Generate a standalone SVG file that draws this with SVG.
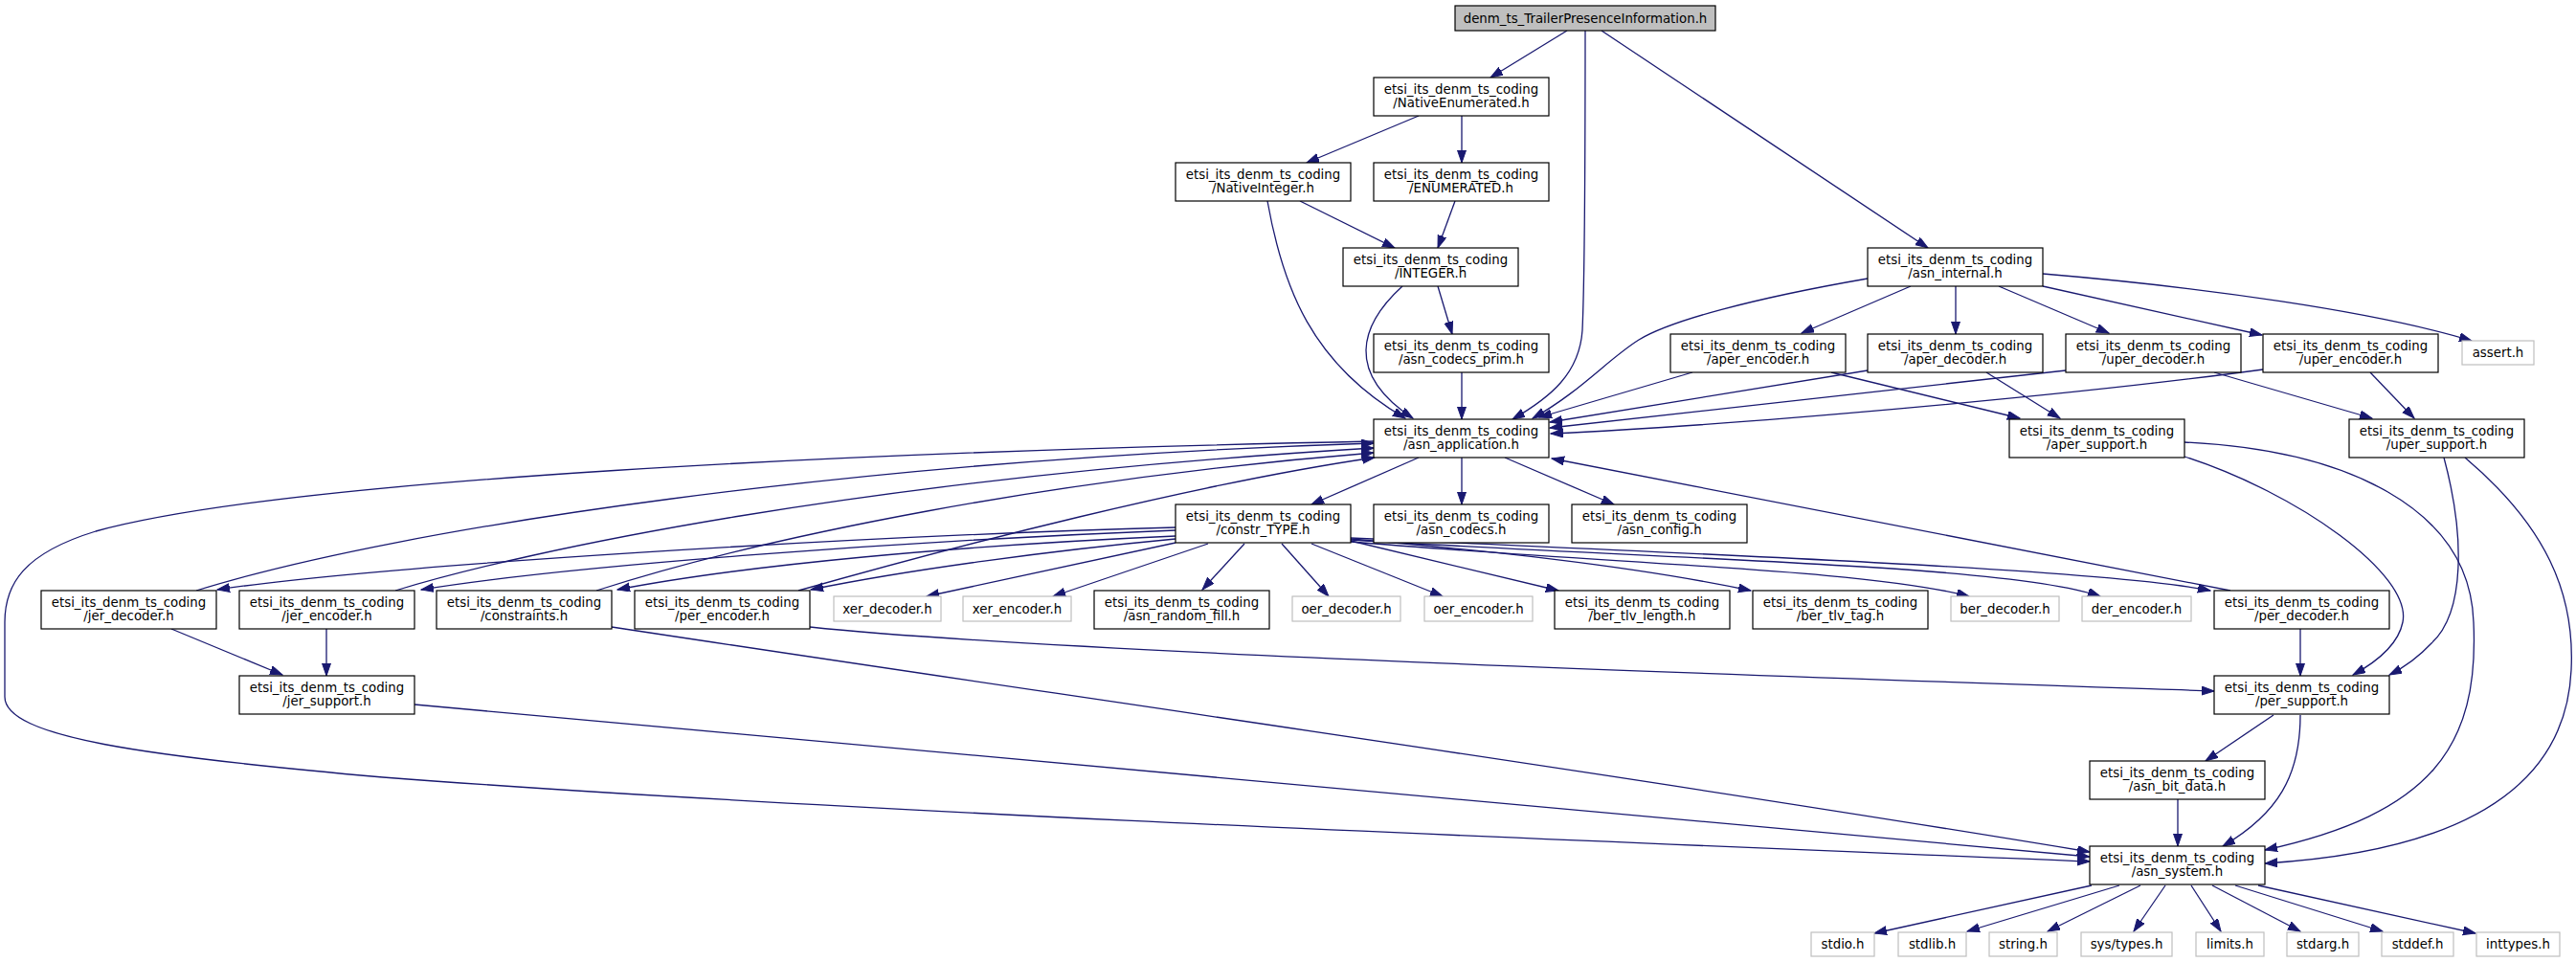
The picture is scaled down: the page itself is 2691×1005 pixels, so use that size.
<svg xmlns="http://www.w3.org/2000/svg" width="2691" height="1005" viewBox="0 0 2691 1005">
<style>
.n rect{fill:#fff;stroke:#000;stroke-width:1.2}
.g rect{fill:#fff;stroke:#bfbfbf;stroke-width:1.2}
.r rect{fill:#bfbfbf;stroke:#000;stroke-width:1.2}
text{font-family:"DejaVu Sans","Liberation Sans",sans-serif;font-size:13.33px;text-anchor:middle;fill:#000}
#edges path{fill:none;stroke:#191970;stroke-width:1.3;marker-end:url(#a)}
</style>
<defs>
<marker id="a" markerWidth="14" markerHeight="10" refX="13" refY="4.5" orient="auto" markerUnits="userSpaceOnUse"><path d="M0,0 L13,4.5 L0,9 z" fill="#191970" stroke="#191970" stroke-width="1"/></marker>
</defs>
<rect width="2691" height="1005" fill="#fff"/>
<g id="edges">
<path d="M1637,32 L1557,81"/>
<path d="M1656,32 C1656,150 1655,300 1653,345 C1650,390 1620,415 1580,438"/>
<path d="M1673,32 L2014,259"/>
<path d="M1482,121 L1365,170"/>
<path d="M1527,121 L1527,170"/>
<path d="M1358,210 L1457,259"/>
<path d="M1324,210 C1340,300 1370,380 1468,437"/>
<path d="M1520,210 L1502,259"/>
<path d="M1465,299 C1420,340 1405,390 1476,437"/>
<path d="M1502,299 L1517,349"/>
<path d="M1527,389 L1527,438"/>
<path d="M1951,291 C1830,312 1745,335 1712,355 C1680,375 1650,410 1601,437"/>
<path d="M1996,299 L1882,348"/>
<path d="M2043,299 L2043,349"/>
<path d="M2088,299 L2203,348"/>
<path d="M2134,299 L2363,350"/>
<path d="M2134,286 C2300,300 2480,325 2582,356"/>
<path d="M1768,389 L1608,436"/>
<path d="M1913,389 L2110,437"/>
<path d="M1951,387 L1619,441"/>
<path d="M2075,389 L2152,437"/>
<path d="M2158,387 L1619,447"/>
<path d="M2313,389 L2478,437"/>
<path d="M2364,386 C2150,415 1800,445 1620,453"/>
<path d="M2476,389 L2522,437"/>
<path d="M2282,477 C2400,515 2520,600 2510,650 C2505,675 2480,693 2458,705"/>
<path d="M2282,462 C2450,470 2580,530 2584,650 C2590,780 2540,850 2366,888"/>
<path d="M2553,478 C2575,560 2575,640 2540,672 C2525,688 2510,698 2496,705"/>
<path d="M2575,478 C2660,550 2690,620 2686,700 C2680,830 2560,890 2366,902"/>
<path d="M1482,478 L1370,527"/>
<path d="M1527,478 L1527,527"/>
<path d="M1572,478 L1686,527"/>
<path d="M1435,461 C900,472 300,500 100,555 C25,578 5,610 5,650 L5,728 C5,770 150,790 400,812 C900,850 1700,880 2183,900"/>
<path d="M205,617 C420,550 900,480 1435,463"/>
<path d="M413,617 C550,575 900,500 1435,468"/>
<path d="M623,617 C800,560 1100,500 1435,473"/>
<path d="M834,617 C1000,570 1250,505 1436,478"/>
<path d="M2330,617 L1621,479"/>
<path d="M1228,551 C900,560 400,590 227,616"/>
<path d="M1228,554 C950,565 600,590 440,616"/>
<path d="M1228,560 C1000,570 780,590 645,616"/>
<path d="M1228,563 C1100,575 950,595 847,616"/>
<path d="M1228,567 L968,623"/>
<path d="M1262,568 L1100,623"/>
<path d="M1300,568 L1256,616"/>
<path d="M1339,568 L1388,623"/>
<path d="M1370,568 L1507,623"/>
<path d="M1411,565 L1628,617"/>
<path d="M1411,563 C1550,575 1700,590 1829,617"/>
<path d="M1411,566 C1700,590 1950,595 2057,623"/>
<path d="M1411,564 C1750,585 2100,590 2194,623"/>
<path d="M1411,562 C1800,580 2200,595 2309,617"/>
<path d="M179,657 L295,705"/>
<path d="M341,657 L341,706"/>
<path d="M433,736 L2183,895"/>
<path d="M639,655 C1100,725 1700,810 2183,890"/>
<path d="M846,655 C1100,682 1900,708 2313,722"/>
<path d="M2403,657 L2403,706"/>
<path d="M2375,747 L2304,795"/>
<path d="M2403,747 C2403,810 2380,850 2322,884"/>
<path d="M2275,835 L2275,884"/>
<path d="M2185,925 L1958,975"/>
<path d="M2214,925 L2055,973"/>
<path d="M2236,925 L2139,973"/>
<path d="M2262,925 L2229,973"/>
<path d="M2289,925 L2320,973"/>
<path d="M2311,925 L2403,973"/>
<path d="M2335,925 L2489,973"/>
<path d="M2359,925 L2586,975"/>
</g>
<g id="root" class="r"><rect x="1520" y="6" width="272" height="26"/><text x="1656" y="23.5">denm_ts_TrailerPresenceInformation.h</text></g>
<g id="NativeEnumerated" class="n"><rect x="1435" y="81" width="183" height="40"/><text x="1526.5" y="97.5">etsi_its_denm_ts_coding</text><text x="1526.5" y="111.5">/NativeEnumerated.h</text></g>
<g id="NativeInteger" class="n"><rect x="1228" y="170" width="183" height="40"/><text x="1319.5" y="186.5">etsi_its_denm_ts_coding</text><text x="1319.5" y="200.5">/NativeInteger.h</text></g>
<g id="ENUMERATED" class="n"><rect x="1435" y="170" width="183" height="40"/><text x="1526.5" y="186.5">etsi_its_denm_ts_coding</text><text x="1526.5" y="200.5">/ENUMERATED.h</text></g>
<g id="INTEGER" class="n"><rect x="1403" y="259" width="183" height="40"/><text x="1494.5" y="275.5">etsi_its_denm_ts_coding</text><text x="1494.5" y="289.5">/INTEGER.h</text></g>
<g id="asn_internal" class="n"><rect x="1951" y="259" width="183" height="40"/><text x="2042.5" y="275.5">etsi_its_denm_ts_coding</text><text x="2042.5" y="289.5">/asn_internal.h</text></g>
<g id="asn_codecs_prim" class="n"><rect x="1435" y="349" width="183" height="40"/><text x="1526.5" y="365.5">etsi_its_denm_ts_coding</text><text x="1526.5" y="379.5">/asn_codecs_prim.h</text></g>
<g id="aper_encoder" class="n"><rect x="1745" y="349" width="183" height="40"/><text x="1836.5" y="365.5">etsi_its_denm_ts_coding</text><text x="1836.5" y="379.5">/aper_encoder.h</text></g>
<g id="aper_decoder" class="n"><rect x="1951" y="349" width="183" height="40"/><text x="2042.5" y="365.5">etsi_its_denm_ts_coding</text><text x="2042.5" y="379.5">/aper_decoder.h</text></g>
<g id="uper_decoder" class="n"><rect x="2158" y="349" width="183" height="40"/><text x="2249.5" y="365.5">etsi_its_denm_ts_coding</text><text x="2249.5" y="379.5">/uper_decoder.h</text></g>
<g id="uper_encoder" class="n"><rect x="2364" y="349" width="183" height="40"/><text x="2455.5" y="365.5">etsi_its_denm_ts_coding</text><text x="2455.5" y="379.5">/uper_encoder.h</text></g>
<g id="assert" class="g"><rect x="2572" y="356" width="75" height="25"/><text x="2609.5" y="373">assert.h</text></g>
<g id="asn_application" class="n"><rect x="1435" y="438" width="183" height="40"/><text x="1526.5" y="454.5">etsi_its_denm_ts_coding</text><text x="1526.5" y="468.5">/asn_application.h</text></g>
<g id="aper_support" class="n"><rect x="2099" y="438" width="183" height="40"/><text x="2190.5" y="454.5">etsi_its_denm_ts_coding</text><text x="2190.5" y="468.5">/aper_support.h</text></g>
<g id="uper_support" class="n"><rect x="2454" y="438" width="183" height="40"/><text x="2545.5" y="454.5">etsi_its_denm_ts_coding</text><text x="2545.5" y="468.5">/uper_support.h</text></g>
<g id="constr_TYPE" class="n"><rect x="1228" y="527" width="183" height="40"/><text x="1319.5" y="543.5">etsi_its_denm_ts_coding</text><text x="1319.5" y="557.5">/constr_TYPE.h</text></g>
<g id="asn_codecs" class="n"><rect x="1435" y="527" width="183" height="40"/><text x="1526.5" y="543.5">etsi_its_denm_ts_coding</text><text x="1526.5" y="557.5">/asn_codecs.h</text></g>
<g id="asn_config" class="n"><rect x="1642" y="527" width="183" height="40"/><text x="1733.5" y="543.5">etsi_its_denm_ts_coding</text><text x="1733.5" y="557.5">/asn_config.h</text></g>
<g id="jer_decoder" class="n"><rect x="43" y="617" width="183" height="40"/><text x="134.5" y="633.5">etsi_its_denm_ts_coding</text><text x="134.5" y="647.5">/jer_decoder.h</text></g>
<g id="jer_encoder" class="n"><rect x="250" y="617" width="183" height="40"/><text x="341.5" y="633.5">etsi_its_denm_ts_coding</text><text x="341.5" y="647.5">/jer_encoder.h</text></g>
<g id="constraints" class="n"><rect x="456" y="617" width="183" height="40"/><text x="547.5" y="633.5">etsi_its_denm_ts_coding</text><text x="547.5" y="647.5">/constraints.h</text></g>
<g id="per_encoder" class="n"><rect x="663" y="617" width="183" height="40"/><text x="754.5" y="633.5">etsi_its_denm_ts_coding</text><text x="754.5" y="647.5">/per_encoder.h</text></g>
<g id="xer_decoder" class="g"><rect x="871" y="623" width="112" height="26"/><text x="927" y="641">xer_decoder.h</text></g>
<g id="xer_encoder" class="g"><rect x="1006" y="623" width="113" height="26"/><text x="1062.5" y="641">xer_encoder.h</text></g>
<g id="asn_random_fill" class="n"><rect x="1143" y="617" width="183" height="40"/><text x="1234.5" y="633.5">etsi_its_denm_ts_coding</text><text x="1234.5" y="647.5">/asn_random_fill.h</text></g>
<g id="oer_decoder" class="g"><rect x="1350" y="623" width="113" height="26"/><text x="1406.5" y="641">oer_decoder.h</text></g>
<g id="oer_encoder" class="g"><rect x="1488" y="623" width="113" height="26"/><text x="1544.5" y="641">oer_encoder.h</text></g>
<g id="ber_tlv_length" class="n"><rect x="1624" y="617" width="183" height="40"/><text x="1715.5" y="633.5">etsi_its_denm_ts_coding</text><text x="1715.5" y="647.5">/ber_tlv_length.h</text></g>
<g id="ber_tlv_tag" class="n"><rect x="1831" y="617" width="183" height="40"/><text x="1922.5" y="633.5">etsi_its_denm_ts_coding</text><text x="1922.5" y="647.5">/ber_tlv_tag.h</text></g>
<g id="ber_decoder" class="g"><rect x="2038" y="623" width="113" height="26"/><text x="2094.5" y="641">ber_decoder.h</text></g>
<g id="der_encoder" class="g"><rect x="2175" y="623" width="114" height="26"/><text x="2232" y="641">der_encoder.h</text></g>
<g id="per_decoder" class="n"><rect x="2313" y="617" width="183" height="40"/><text x="2404.5" y="633.5">etsi_its_denm_ts_coding</text><text x="2404.5" y="647.5">/per_decoder.h</text></g>
<g id="jer_support" class="n"><rect x="250" y="706" width="183" height="40"/><text x="341.5" y="722.5">etsi_its_denm_ts_coding</text><text x="341.5" y="736.5">/jer_support.h</text></g>
<g id="per_support" class="n"><rect x="2313" y="706" width="183" height="40"/><text x="2404.5" y="722.5">etsi_its_denm_ts_coding</text><text x="2404.5" y="736.5">/per_support.h</text></g>
<g id="asn_bit_data" class="n"><rect x="2183" y="795" width="183" height="40"/><text x="2274.5" y="811.5">etsi_its_denm_ts_coding</text><text x="2274.5" y="825.5">/asn_bit_data.h</text></g>
<g id="asn_system" class="n"><rect x="2183" y="884" width="183" height="40"/><text x="2274.5" y="900.5">etsi_its_denm_ts_coding</text><text x="2274.5" y="914.5">/asn_system.h</text></g>
<g id="stdio" class="g"><rect x="1892" y="974" width="66" height="25"/><text x="1925" y="991">stdio.h</text></g>
<g id="stdlib" class="g"><rect x="1983" y="974" width="71" height="25"/><text x="2018.5" y="991">stdlib.h</text></g>
<g id="string" class="g"><rect x="2078" y="974" width="71" height="25"/><text x="2113.5" y="991">string.h</text></g>
<g id="sys_types" class="g"><rect x="2174" y="974" width="95" height="25"/><text x="2221.5" y="991">sys/types.h</text></g>
<g id="limits" class="g"><rect x="2294" y="974" width="71" height="25"/><text x="2329.5" y="991">limits.h</text></g>
<g id="stdarg" class="g"><rect x="2389" y="974" width="75" height="25"/><text x="2426.5" y="991">stdarg.h</text></g>
<g id="stddef" class="g"><rect x="2488" y="974" width="75" height="25"/><text x="2525.5" y="991">stddef.h</text></g>
<g id="inttypes" class="g"><rect x="2587" y="974" width="87" height="25"/><text x="2630.5" y="991">inttypes.h</text></g>
</svg>
